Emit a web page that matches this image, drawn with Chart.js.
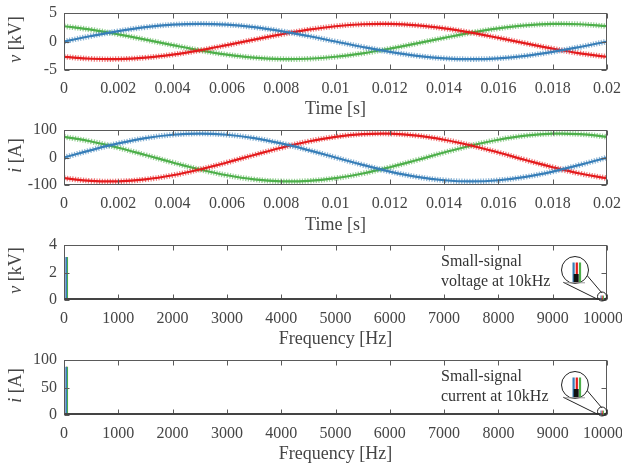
<!DOCTYPE html>
<html>
<head>
<meta charset="utf-8">
<script src="https://cdn.jsdelivr.net/npm/chart.js@4.4.1/dist/chart.umd.min.js"></script>
<style>
  body { margin: 0; background: #fff; }
  #wrap { position: relative; width: 622px; height: 468px; overflow: hidden; }
  canvas { position: absolute; left: 0; }
</style>
</head>
<body>
<div id="wrap">
  <canvas id="c1" width="622" height="120" style="top:0px"></canvas>
  <canvas id="c2" width="622" height="118" style="top:118px"></canvas>
  <canvas id="c3" width="622" height="115" style="top:235px"></canvas>
  <canvas id="c4" width="622" height="115" style="top:350px"></canvas>
</div>
<script>
// time axis [s]
const timeAxis = [0, 0.001, 0.002, 0.003, 0.004, 0.005, 0.006, 0.007, 0.008, 0.009, 0.01,
  0.011, 0.012, 0.013, 0.014, 0.015, 0.016, 0.017, 0.018, 0.019, 0.02];

// phase voltages [kV]
const vA = [0, 0.96, 1.82, 2.51, 2.95, 3.10, 2.95, 2.51, 1.82, 0.96, 0,
  -0.96, -1.82, -2.51, -2.95, -3.10, -2.95, -2.51, -1.82, -0.96, 0];
const vB = [-2.68, -3.03, -3.08, -2.83, -2.30, -1.55, -0.64, 0.32, 1.26, 2.07, 2.68,
  3.03, 3.08, 2.83, 2.30, 1.55, 0.64, -0.32, -1.26, -2.07, -2.68];
const vC = [2.68, 2.07, 1.26, 0.32, -0.64, -1.55, -2.30, -2.83, -3.08, -3.03, -2.68,
  -2.07, -1.26, -0.32, 0.64, 1.55, 2.30, 2.83, 3.08, 3.03, 2.68];

// phase currents [A]
const iA = [0, 26.9, 51.1, 70.4, 82.7, 87.0, 82.7, 70.4, 51.1, 26.9, 0,
  -26.9, -51.1, -70.4, -82.7, -87.0, -82.7, -70.4, -51.1, -26.9, 0];
const iB = [-75.3, -85.1, -86.6, -79.5, -64.6, -43.5, -18.1, 9.1, 35.4, 58.2, 75.3,
  85.1, 86.6, 79.5, 64.6, 43.5, 18.1, -9.1, -35.4, -58.2, -75.3];
const iC = [75.3, 58.2, 35.4, 9.1, -18.1, -43.5, -64.6, -79.5, -86.6, -85.1, -75.3,
  -58.2, -35.4, -9.1, 18.1, 43.5, 64.6, 79.5, 86.6, 85.1, 75.3];

// spectra: fundamental and small-signal bin
const freqBins = [50, 10000];
const vSpecA = [3.1, 0.03];
const vSpecB = [3.1, 0.03];
const vSpecC = [3.1, 0.03];
const iSpecA = [87, 0.9];
const iSpecB = [87, 0.9];
const iSpecC = [87, 0.9];

// ticks
const timeTicks = [0, 0.002, 0.004, 0.006, 0.008, 0.01, 0.012, 0.014, 0.016, 0.018, 0.02];
const timeTickLabels = ['0', '0.002', '0.004', '0.006', '0.008', '0.01', '0.012', '0.014', '0.016', '0.018', '0.02'];
const freqTicks = [0, 1000, 2000, 3000, 4000, 5000, 6000, 7000, 8000, 9000, 10000];
const freqTickLabels = ['0', '1000', '2000', '3000', '4000', '5000', '6000', '7000', '8000', '9000', '10000'];
const vTicks = [-5, 0, 5];
const iTicks = [-100, 0, 100];
const vSpecTicks = [0, 2, 4];
const iSpecTicks = [0, 50, 100];

const colors = ['#377eb8', '#e41a1c', '#4daf4a'];
const ripple = ['rgba(55,126,184,0.6)', 'rgba(228,26,28,0.6)', 'rgba(77,175,74,0.6)'];
const FONT = "'Liberation Serif', 'Times New Roman', serif";
const TXT = '#454545';

Chart.defaults.font.family = FONT;
Chart.defaults.color = TXT;

// box around plot area with inward ticks on all four sides
const boxTicks = {
  id: 'boxTicks',
  afterDraw(chart, args, o) {
    const { ctx, chartArea: a, scales: { x, y } } = chart;
    const L = Math.round(a.left) + 0.5, R = Math.round(a.right) - 0.5;
    const T = Math.round(a.top) + 0.5, B = Math.round(a.bottom) - 0.5;
    ctx.save();
    ctx.strokeStyle = '#5a5a5a';
    ctx.lineWidth = 1;
    ctx.beginPath();
    x.ticks.forEach(t => {
      const p = Math.round(x.getPixelForValue(t.value)) + 0.5;
      ctx.moveTo(p, B); ctx.lineTo(p, B - 5);
      ctx.moveTo(p, T); ctx.lineTo(p, T + 5);
    });
    y.ticks.forEach(t => {
      const p = Math.round(y.getPixelForValue(t.value)) + 0.5;
      ctx.moveTo(L, p); ctx.lineTo(L + 5, p);
      ctx.moveTo(R, p); ctx.lineTo(R - 5, p);
    });
    ctx.stroke();
    ctx.strokeRect(L, T, R - L, B - T);
    if (o.baseline) {
      ctx.strokeStyle = '#444';
      ctx.lineWidth = 2;
      ctx.beginPath();
      ctx.moveTo(L, B - 0.5); ctx.lineTo(R, B - 0.5);
      ctx.stroke();
    }
    ctx.restore();
  }
};

// rotated y title with italic symbol
const yTitle = {
  id: 'yTitle',
  afterDraw(chart, args, o) {
    const { ctx, chartArea: a } = chart;
    ctx.save();
    ctx.translate(16, (a.top + a.bottom) / 2 - 2);
    ctx.rotate(-Math.PI / 2);
    ctx.fillStyle = TXT;
    ctx.textBaseline = 'middle';
    ctx.textAlign = 'left';
    ctx.font = 'italic 18px ' + FONT;
    const w1 = ctx.measureText(o.sym).width;
    ctx.font = '18px ' + FONT;
    const w2 = ctx.measureText(o.unit).width;
    const sx = -(w1 + w2) / 2;
    ctx.font = 'italic 18px ' + FONT;
    ctx.fillText(o.sym, sx, 0);
    ctx.font = '18px ' + FONT;
    ctx.fillText(o.unit, sx + w1, 0);
    ctx.restore();
  }
};

// annotation text and magnifier callout at the small-signal bin
const inset = {
  id: 'inset',
  afterDraw(chart, args, o) {
    const { ctx, chartArea: a, scales: { x, y } } = chart;
    const px = x.getPixelForValue(freqBins[1]), py = y.getPixelForValue(0);
    ctx.save();
    ctx.fillStyle = '#333';
    ctx.font = '16px ' + FONT;
    ctx.textBaseline = 'middle';
    ctx.textAlign = 'left';
    o.lines.forEach((s, k) => ctx.fillText(s, a.right - 166, a.top + 17 + k * 20));

    const sx = px - 5, sy = py - 3.5, bx = px - 32, by = py - 30;
    ctx.strokeStyle = '#222';
    ctx.lineWidth = 1;
    ctx.beginPath();
    ctx.moveTo(bx - 11.7, by + 12.3); ctx.lineTo(sx - 4.3, sy + 2.8);
    ctx.moveTo(bx + 10, by + 3); ctx.lineTo(sx - 0.3, sy - 3.8);
    ctx.stroke();
    ctx.beginPath();
    ctx.arc(bx, by, 13.5, 0, Math.PI * 2);
    ctx.fillStyle = '#fff';
    ctx.fill();
    ctx.stroke();

    const top = by - 7.5, base = by + 12.3, h = base - top;
    const m = Math.max(...o.amps);
    o.amps.forEach((v, k) => {
      const bh = h * v / m;
      ctx.fillStyle = colors[k];
      ctx.fillRect(bx - 2.5 + k * 3.2, base - bh, 2.2, bh);
      ctx.fillRect(sx - 1.5 + k * 1.2, sy + 3 - bh * 0.2, 1, bh * 0.2);
    });
    ctx.fillStyle = '#111';
    ctx.fillRect(bx - 1.3, by + 4, 5, 8.3);
    ctx.strokeStyle = '#999';
    ctx.beginPath();
    ctx.moveTo(bx - 10, base + 0.5); ctx.lineTo(bx + 10, base + 0.5);
    ctx.stroke();

    ctx.strokeStyle = '#222';
    ctx.beginPath();
    ctx.arc(sx, sy, 4.5, 0, Math.PI * 2);
    ctx.stroke();
    ctx.restore();
  }
};

function xScale(ticks, labels, title, height, padLast, titlePad) {
  return {
    type: 'linear',
    min: ticks[0],
    max: ticks[ticks.length - 1],
    offset: false,
    afterBuildTicks: s => { s.ticks = ticks.map(v => ({ value: v })); },
    afterFit: s => { s.height = height; s.paddingLeft = 0; s.paddingRight = 0; },
    grid: { display: false, drawTicks: false },
    border: { display: false },
    ticks: {
      autoSkip: false, maxRotation: 0, padding: 9,
      font: { size: 16 }, color: TXT,
      callback: (v, k) => (padLast && k === labels.length - 1) ? labels[k] + '\u2002' : labels[k]
    },
    title: { display: true, text: title, font: { size: 18 }, color: TXT, padding: { top: 0, bottom: titlePad } }
  };
}

function yScale(ticks) {
  return {
    min: ticks[0],
    max: ticks[ticks.length - 1],
    afterBuildTicks: s => { s.ticks = ticks.map(v => ({ value: v })); },
    afterFit: s => { s.width = 64; s.paddingTop = 0; s.paddingBottom = 0; },
    grid: { display: false, drawTicks: false },
    border: { display: false },
    ticks: { padding: 7, font: { size: 16 }, color: TXT }
  };
}

function timeChart(id, series, yTicks, sym, unit, padTop, xh) {
  const datasets = [];
  series.forEach((vals, k) => {
    const pts = timeAxis.map((t, j) => ({ x: t, y: vals[j] }));
    datasets.push({ data: pts, borderColor: colors[k], borderWidth: 2.2, pointRadius: 0, tension: 0.4 });
    datasets.push({ data: pts, borderColor: ripple[k], borderWidth: 5.5, borderDash: [1.2, 1.5], pointRadius: 0, tension: 0.4 });
  });
  new Chart(document.getElementById(id), {
    type: 'line',
    data: { datasets },
    options: {
      responsive: false, animation: false,
      layout: { padding: { top: padTop, right: 15, left: 0, bottom: 0 } },
      plugins: { legend: { display: false }, tooltip: { enabled: false }, yTitle: { sym, unit }, boxTicks: {} },
      scales: { x: xScale(timeTicks, timeTickLabels, 'Time [s]', xh, false, 0), y: yScale(yTicks) }
    },
    plugins: [boxTicks, yTitle]
  });
}

function specChart(id, series, yTicks, sym, unit, padTop, xh, lines) {
  // blue and green side by side, red centred underneath
  const order = [0, 2, 1];
  const datasets = order.map(k => ({
    data: freqBins.map((f, j) => ({ x: f, y: series[k][j] })),
    backgroundColor: colors[k], borderWidth: 0, barThickness: 1, grouped: k !== 1
  }));
  new Chart(document.getElementById(id), {
    type: 'bar',
    data: { datasets },
    options: {
      responsive: false, animation: false,
      layout: { padding: { top: padTop, right: 15, left: 0, bottom: 0 } },
      plugins: {
        legend: { display: false }, tooltip: { enabled: false },
        yTitle: { sym, unit }, boxTicks: { baseline: true },
        inset: { lines, amps: series.map(s => s[1]) }
      },
      scales: { x: xScale(freqTicks, freqTickLabels, 'Frequency [Hz]', xh, true, 0), y: yScale(yTicks) }
    },
    plugins: [boxTicks, yTitle, inset]
  });
}

timeChart('c1', [vA, vB, vC], vTicks, 'v', ' [kV]', 13, 50);
timeChart('c2', [iA, iB, iC], iTicks, 'i', ' [A]', 12, 51);
specChart('c3', [vSpecA, vSpecB, vSpecC], vSpecTicks, 'v', ' [kV]', 10, 50, ['Small-signal', 'voltage at 10kHz']);
specChart('c4', [iSpecA, iSpecB, iSpecC], iSpecTicks, 'i', ' [A]', 10, 50, ['Small-signal', 'current at 10kHz']);
</script>
</body>
</html>
